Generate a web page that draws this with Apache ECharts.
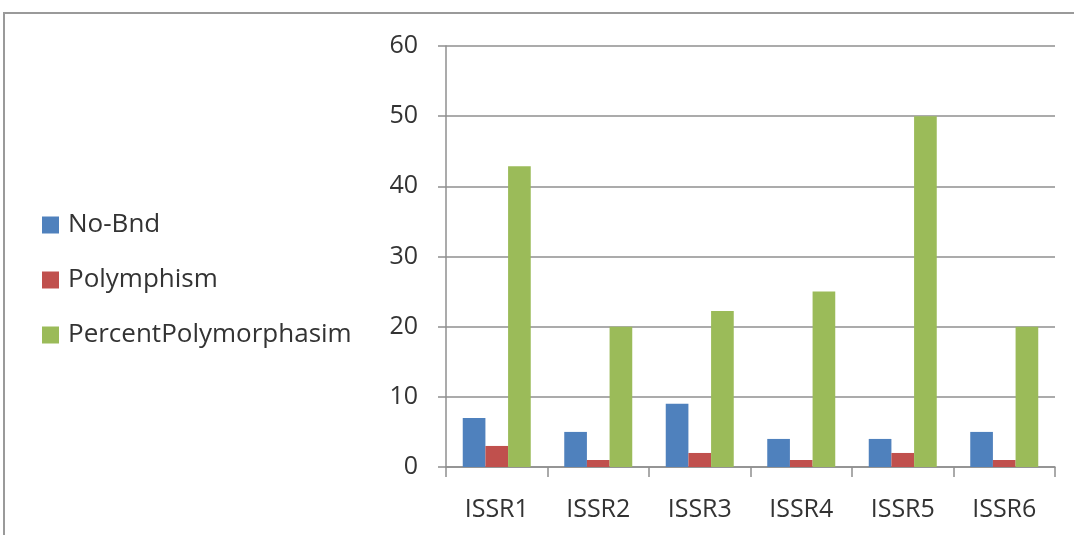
<!DOCTYPE html>
<html>
<head>
<meta charset="utf-8">
<script src="https://cdn.jsdelivr.net/npm/echarts@6/dist/echarts.min.js"></script>
<style>
  html, body { margin: 0; padding: 0; background: #fff; }
  #chart { width: 1074px; height: 535px; }
</style>
</head>
<body>
<div id="chart"></div>
<script>
// Primer names along the x axis
const categories = ['ISSR1', 'ISSR2', 'ISSR3', 'ISSR4', 'ISSR5', 'ISSR6'];

// Number of bands per primer
const noBnd = [7, 5, 9, 4, 4, 5];
// Polymorphic bands per primer
const polymphism = [3, 1, 2, 1, 2, 1];
// Percent polymorphism per primer
const percentPolymorphasim = [42.86, 20, 22.22, 25, 50, 20];

// Value axis ticks
const yTicks = [0, 10, 20, 30, 40, 50, 60];

const seriesNames = ['No-Bnd', 'Polymphism', 'PercentPolymorphasim'];
const seriesColors = ['#4f81bd', '#c0504d', '#9bbb59'];
const seriesData = [noBnd, polymphism, percentPolymorphasim];

const gridColor = '#8f8f8f';
const font = '"Open Sans", "Liberation Sans", Arial, sans-serif';
const textColor = '#333333';

const chart = echarts.init(document.getElementById('chart'), null, { renderer: 'canvas' });

chart.setOption({
  animation: false,
  backgroundColor: '#ffffff',
  graphic: [{
    type: 'rect',
    shape: { x: 4, y: 13, width: 1200, height: 700 },
    style: { fill: 'none', stroke: '#9a9a9a', lineWidth: 2 },
    silent: true
  }],
  legend: {
    orient: 'vertical',
    left: 42,
    top: 211,
    padding: 0,
    itemWidth: 17,
    itemHeight: 17,
    itemGap: 27,
    icon: 'rect',
    data: seriesNames,
    textStyle: {
      fontFamily: font,
      fontSize: 26,
      color: textColor,
      lineHeight: 28,
      padding: [0, 0, 0, 4]
    }
  },
  grid: {
    left: 446,
    right: 19,
    top: 46,
    bottom: 68,
    containLabel: false
  },
  xAxis: {
    type: 'category',
    data: categories,
    boundaryGap: true,
    axisLine: { show: true, lineStyle: { color: gridColor, width: 1.5 } },
    axisTick: { show: true, length: 10, lineStyle: { color: gridColor, width: 1.5 } },
    axisLabel: {
      margin: 30,
      fontFamily: font,
      fontSize: 25,
      color: textColor
    },
    splitLine: { show: false }
  },
  yAxis: {
    type: 'value',
    min: yTicks[0],
    max: yTicks[yTicks.length - 1],
    interval: 10,
    axisLine: { show: true, lineStyle: { color: gridColor, width: 1.5 } },
    axisTick: { show: true, length: 8, lineStyle: { color: gridColor, width: 1.5 } },
    axisLabel: {
      margin: 28,
      fontFamily: font,
      fontSize: 25,
      color: textColor
    },
    splitLine: { show: true, lineStyle: { color: gridColor, width: 1.5 } }
  },
  series: seriesNames.map((name, i) => ({
    name: name,
    type: 'bar',
    data: seriesData[i],
    barGap: '0%',
    barCategoryGap: '33%',
    itemStyle: { color: seriesColors[i] }
  }))
});
</script>
</body>
</html>
